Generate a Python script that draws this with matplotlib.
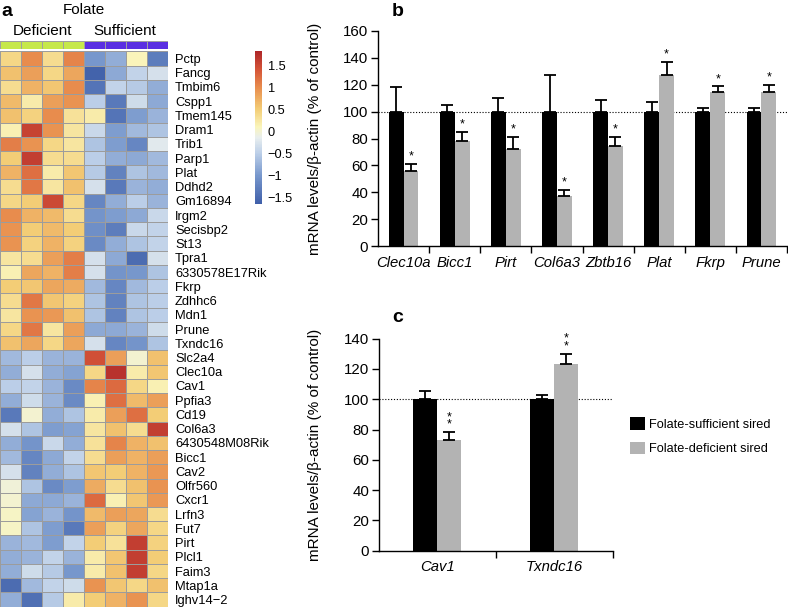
import numpy as np
import matplotlib
matplotlib.use('Agg')
import matplotlib.pyplot as plt
from matplotlib.colors import LinearSegmentedColormap, ListedColormap, Normalize
from matplotlib.patches import Patch

plt.rcParams['font.family'] = ['Liberation Sans', 'DejaVu Sans']

# ---- panel a: heatmap (row z-scores) ----
heat_genes = ['Pctp', 'Fancg', 'Tmbim6', 'Cspp1', 'Tmem145', 'Dram1', 'Trib1', 'Parp1',
              'Plat', 'Ddhd2', 'Gm16894', 'Irgm2', 'Secisbp2', 'St13', 'Tpra1',
              '6330578E17Rik', 'Fkrp', 'Zdhhc6', 'Mdn1', 'Prune', 'Txndc16', 'Slc2a4',
              'Clec10a', 'Cav1', 'Ppfia3', 'Cd19', 'Col6a3', '6430548M08Rik', 'Bicc1',
              'Cav2', 'Olfr560', 'Cxcr1', 'Lrfn3', 'Fut7', 'Pirt', 'Plcl1', 'Faim3',
              'Mtap1a', 'Ighv14\u22122']
heat_groups = ['Deficient'] * 4 + ['Sufficient'] * 4
heat_values = [
    [0.40, 1.00, 0.35, 1.05, -1.00, -0.80, 0.10, -1.30],
    [0.60, 0.85, 0.40, 0.80, -1.60, -0.85, -0.45, -0.30],
    [0.35, 0.70, 0.55, 1.00, -1.40, -0.45, -0.55, -0.80],
    [0.65, 0.20, 0.85, 0.95, -0.50, -1.35, -0.35, -0.85],
    [0.60, 0.45, 1.00, 0.30, 0.20, -1.40, -0.95, -0.75],
    [0.15, 1.55, 0.95, 0.25, -0.40, -0.95, -0.70, -0.60],
    [1.10, 0.95, 0.40, 0.25, -0.60, -0.95, -1.20, -0.20],
    [0.50, 1.60, 0.35, 0.35, -0.50, -0.80, -0.85, -0.70],
    [0.70, 1.20, 0.20, 0.55, -0.55, -1.25, -0.60, -0.70],
    [0.35, 1.15, 0.25, 0.60, -0.30, -1.35, -0.75, -0.80],
    [0.40, 0.50, 1.50, 0.40, -1.20, -0.80, -0.50, -0.75],
    [1.00, 0.70, 0.65, 0.35, -1.05, -0.95, -0.85, -0.40],
    [0.95, 0.50, 0.65, 0.50, -1.10, -1.30, -0.40, -0.45],
    [0.95, 0.45, 0.70, 0.45, -1.15, -0.80, -0.60, -0.45],
    [0.25, 0.35, 0.85, 1.10, -0.30, -0.85, -1.50, -0.30],
    [0.15, 0.80, 0.70, 1.10, -0.30, -1.05, -1.00, -0.60],
    [0.50, 0.55, 0.80, 0.75, -0.70, -1.20, -0.70, -0.50],
    [0.35, 1.15, 0.55, 0.45, -0.60, -1.25, -0.60, -0.50],
    [0.25, 0.95, 0.90, 0.60, -0.60, -1.25, -0.60, -0.50],
    [0.40, 1.15, 0.25, 0.85, -0.85, -0.85, -0.75, -0.35],
    [0.60, 0.80, 0.40, 0.80, -0.30, -1.20, -1.05, -0.60],
    [-0.70, -0.50, -0.75, -0.75, 1.45, 0.85, 0.00, 0.60],
    [-0.80, -0.30, -0.80, -0.90, 0.40, 1.70, 0.20, 0.55],
    [-0.50, -0.45, -0.75, -1.15, 1.05, 1.25, 0.40, 0.15],
    [-0.80, -0.35, -0.75, -1.15, 0.15, 1.20, 0.65, 0.85],
    [-1.35, 0.00, -0.80, -0.60, 0.20, 0.85, 1.20, 0.50],
    [-0.30, -0.60, -0.95, -0.90, 0.25, 0.60, 0.35, 1.60],
    [-0.80, -1.05, -0.40, -0.80, 0.30, 1.05, 0.70, 0.60],
    [-0.70, -1.20, -0.85, -0.45, 0.35, 0.85, 0.70, 0.85],
    [-0.30, -1.25, -0.80, -0.60, 0.55, 0.50, 0.70, 0.90],
    [-0.05, -0.60, -1.15, -0.95, 0.75, 0.35, 0.60, 0.95],
    [0.00, -0.85, -0.85, -0.75, 1.25, 0.15, 0.55, 0.90],
    [0.05, -0.90, -0.75, -1.05, 0.65, 0.85, 0.80, 0.35],
    [0.05, -0.60, -0.95, -1.35, 0.85, 0.45, 0.80, 0.40],
    [-0.75, -0.70, -0.95, -0.45, 0.50, 0.30, 1.60, 0.45],
    [-0.80, -0.75, -0.45, -0.75, 0.20, 0.55, 1.60, 0.50],
    [-0.80, -0.35, -0.55, -1.00, 0.20, 0.60, 1.60, 0.40],
    [-1.50, -0.70, -0.45, -0.35, 0.95, 0.55, 0.40, 0.60],
    [-0.80, -1.45, -0.55, 0.20, 0.50, 0.70, 0.95, 0.40],
]
cbar_ticks = [1.5, 1, 0.5, 0, -0.5, -1, -1.5]

# ---- panel b: qPCR validation ----
b_genes = ['Clec10a', 'Bicc1', 'Pirt', 'Col6a3', 'Zbtb16', 'Plat', 'Fkrp', 'Prune']
b_sufficient = [100, 100, 100, 100, 100, 100, 100, 100]
b_sufficient_err = [18.6, 5.0, 10.0, 27.0, 9.0, 7.5, 2.5, 2.5]
b_deficient = [56, 78, 72, 37, 74.5, 127, 114.5, 114.5]
b_deficient_err = [5.0, 7.0, 9.0, 5.0, 6.5, 10.0, 4.3, 5.2]
b_stars = [1] * 8

# ---- panel c ----
c_genes = ['Cav1', 'Txndc16']
c_sufficient = [100, 100]
c_sufficient_err = [5.7, 2.8]
c_deficient = [73, 123]
c_deficient_err = [5.2, 6.8]
c_stars = [2, 2]

W, H = 788, 610
fig = plt.figure(figsize=(W / 100, H / 100), dpi=100)

def box(x0, y0, x1, y1):
    # pixel box (top-left origin) -> figure fraction rect
    return [x0 / W, 1 - y1 / H, (x1 - x0) / W, (y1 - y0) / H]

vmin, vmax = -1.65, 1.82
stops = [(-1.65, '#3f5fa9'), (-1.0, '#7898cd'), (-0.5, '#bccfe8'), (-0.15, '#e8eeee'),
         (0.1, '#faf5bb'), (0.5, '#f3cd76'), (1.0, '#e88c4d'), (1.4, '#d55538'),
         (1.82, '#ae2629')]
cmap = LinearSegmentedColormap.from_list(
    'heat', [((v - vmin) / (vmax - vmin), c) for v, c in stops])
norm = Normalize(vmin, vmax)

data = np.array(heat_values)
nrow, ncol = data.shape

# group colour strip
ax_top = fig.add_axes(box(0, 41.3, 168, 49))
grp_codes = np.array([[0 if g == 'Deficient' else 1 for g in heat_groups]])
ax_top.pcolormesh(grp_codes, cmap=ListedColormap(['#c6e84c', '#5a2fe2']),
                  edgecolors='#a0a0a0', linewidth=0.6, vmin=0, vmax=1)
ax_top.set_xlim(0, ncol)
ax_top.axis('off')

ax_h = fig.add_axes(box(0, 51.3, 168, 606.7))
ax_h.pcolormesh(data, cmap=cmap, norm=norm, edgecolors='#9c9c9c', linewidth=0.6)
ax_h.set_xlim(0, ncol)
ax_h.set_ylim(nrow, 0)
ax_h.set_xticks([])
ax_h.yaxis.tick_right()
ax_h.set_yticks(np.arange(nrow) + 0.5)
ax_h.set_yticklabels(heat_genes, fontsize=9.3)
ax_h.tick_params(axis='y', length=0, pad=5)
for s in ax_h.spines.values():
    s.set_visible(False)

fig.text(84 / W, 1 - 10 / H, 'Folate', ha='center', va='center', fontsize=11)
fig.text(42.5 / W, 1 - 30.7 / H, 'Deficient', ha='center', va='center', fontsize=11)
fig.text(125 / W, 1 - 30.7 / H, 'Sufficient', ha='center', va='center', fontsize=11)

ax_cb = fig.add_axes(box(255, 51, 262, 204))
cb = fig.colorbar(plt.cm.ScalarMappable(norm=norm, cmap=cmap), cax=ax_cb)
cb.outline.set_visible(False)
cb.set_ticks(cbar_ticks)
cb.set_ticklabels([('%g' % t).replace('-', '\u2212') for t in cbar_ticks])
ax_cb.tick_params(length=0, pad=4, labelsize=9.2)

# ---- bar panels ----
GRAY = '#b3b3b3'

def bar_panel(ax, genes, suff, suff_err, defi, defi_err, nstars, w, ymax):
    n = len(genes)
    x = np.arange(n) + 0.5
    ax.axhline(100, color='black', ls=(0, (1, 1.6)), lw=0.8, zorder=1)
    ax.bar(x - w / 2, suff, w, color='black', zorder=2)
    ax.bar(x + w / 2, defi, w, color=GRAY, zorder=2)
    ax.errorbar(x - w / 2, suff, yerr=[np.zeros(n), suff_err], fmt='none',
                ecolor='black', elinewidth=1.3, capsize=4, capthick=1.3, zorder=3)
    ax.errorbar(x + w / 2, defi, yerr=[np.zeros(n), defi_err], fmt='none',
                ecolor='black', elinewidth=1.3, capsize=4, capthick=1.3, zorder=3)
    for i in range(n):
        ax.annotate('\n'.join(['*'] * nstars[i]), (x[i] + w / 2, defi[i] + defi_err[i]),
                    xytext=(0, 1), textcoords='offset points', linespacing=0.55,
                    ha='center', va='bottom', fontsize=9)
    ax.set_xlim(0, n)
    ax.set_ylim(0, ymax)
    ax.set_yticks(np.arange(0, ymax + 1, 20))
    ax.set_xticks(np.arange(1, n + 1))
    ax.set_xticklabels([])
    ax.set_xticks(x, minor=True)
    ax.set_xticklabels(genes, minor=True, style='italic', fontsize=10.7)
    ax.tick_params(axis='x', which='minor', length=0, pad=7)
    ax.tick_params(axis='x', which='major', length=5, width=1)
    ax.tick_params(axis='y', length=5, width=1, labelsize=10.8, pad=2)
    for s in ['top', 'right']:
        ax.spines[s].set_visible(False)
    for s in ['left', 'bottom']:
        ax.spines[s].set_linewidth(1)
    ax.set_ylabel('mRNA levels/\u03b2-actin (% of control)', fontsize=11)

axb = fig.add_axes(box(378, 31, 787, 246))
bar_panel(axb, b_genes, b_sufficient, b_sufficient_err, b_deficient,
          b_deficient_err, b_stars, 0.29, 160)
axb.yaxis.set_label_coords((322 - 378) / 409, 0.5)

axc = fig.add_axes(box(379, 338.7, 612.7, 550.7))
bar_panel(axc, c_genes, c_sufficient, c_sufficient_err, c_deficient,
          c_deficient_err, c_stars, 0.205, 140)
axc.yaxis.set_label_coords((322 - 379) / 233.7, 0.5)

fig.legend(handles=[Patch(facecolor='black', label='Folate-sufficient sired'),
                    Patch(facecolor=GRAY, label='Folate-deficient sired')],
           loc='upper left', bbox_to_anchor=(630 / W, 1 - 417 / H), frameon=False,
           fontsize=9.2, handlelength=1.15, handleheight=1.15, handletextpad=0.35,
           labelspacing=0.85, borderpad=0, borderaxespad=0)

fig.text(1 / W, 1 - 11 / H, 'a', fontweight='bold', fontsize=14, va='center')
fig.text(392 / W, 1 - 12 / H, 'b', fontweight='bold', fontsize=14, va='center')
fig.text(392 / W, 1 - 318 / H, 'c', fontweight='bold', fontsize=14, va='center')

fig.savefig('out.png', dpi=100)
